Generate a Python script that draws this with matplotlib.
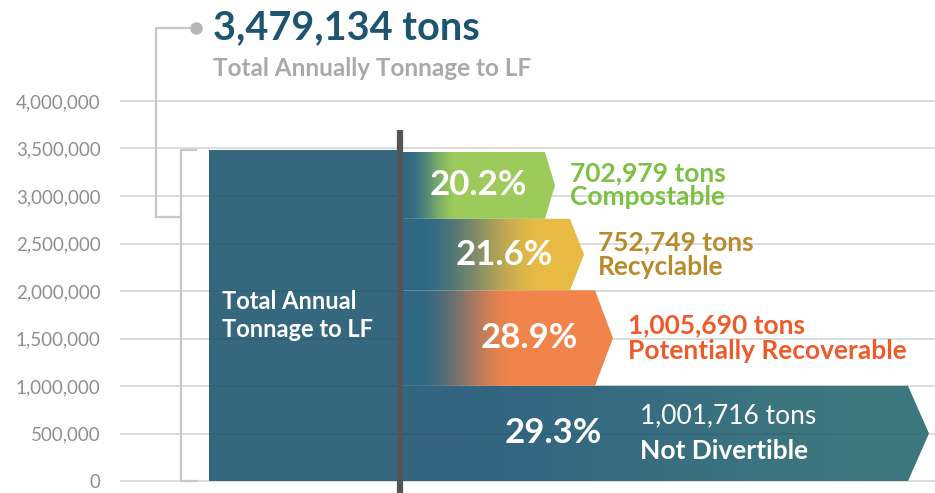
import numpy as np
import matplotlib
matplotlib.use("Agg")
import matplotlib.pyplot as plt
from matplotlib.patches import Polygon
from matplotlib.colors import to_rgb
from matplotlib.ticker import FuncFormatter

# data (bottom to top)
categories = ["Not Divertible", "Potentially Recoverable", "Recyclable", "Compostable"]
tons = [1001716, 1005690, 752749, 702979]
pcts = [29.3, 28.9, 21.6, 20.2]
total = 3479134
yticks = [0, 500000, 1000000, 1500000, 2000000, 2500000, 3000000, 3500000, 4000000]

# styling / layout (x in pixel-like units)
teal = "#35687f"
arrow_cols = ["#3e787e", "#f1844a", "#e7bb44", "#9dcb5b"]
text_cols = ["white", "#ef5a2a", "#b88b2b", "#7cc142"]
rect_end = [908, 595, 570, 545]
tip_end = [929, 613, 584, 555]
grad_from = [400, 416, 418, 406]
grad_to = [929, 515, 543, 458]
pct_x = [553, 529, 504, 478]
lab_x = [640, 628, 598, 570]
lab_off = [185000, 135000, 135000, 125000]

plt.rcParams["font.family"] = ["Lato", "DejaVu Sans"]

fig = plt.figure(figsize=(9.35, 4.93), dpi=100)
ax = fig.add_axes([120 / 935, 0, 815 / 935, 1])


def yfrac(py):
    return 1 - py / 493


def grad_img(x0, x1, xa, xb, c0, c1, n=400):
    xs = np.linspace(x0, x1, n)
    t = np.clip((xs - xa) / (xb - xa), 0, 1)
    t = t * t * (3 - 2 * t)
    a = np.array(to_rgb(c0))
    b = np.array(to_rgb(c1))
    img = a[None, :] * (1 - t[:, None]) + b[None, :] * t[:, None]
    return img[None, :, :]


# main bar
ax.bar(209, total, width=191, align="edge", color=teal, zorder=2)
ax.text(222, 1.74e6, "Total Annual\nTonnage to LF", color="white", fontsize=17,
        fontweight="bold", va="center", ha="left", linespacing=1.25, zorder=6)

# arrows
bottoms = np.concatenate([[0], np.cumsum(tons)[:-1]])
for i in range(len(tons)):
    y0 = bottoms[i]
    y1 = y0 + tons[i]
    ym = (y0 + y1) / 2
    x0 = 400
    pts = [(x0, y0), (rect_end[i], y0), (tip_end[i], ym), (rect_end[i], y1), (x0, y1)]
    poly = Polygon(pts, closed=True, facecolor="none", edgecolor="none")
    ax.add_patch(poly)
    start = "#336482" if i == 0 else "#2f6884"
    img = grad_img(x0, tip_end[i], grad_from[i], grad_to[i], start, arrow_cols[i])
    im = ax.imshow(img, extent=[x0, tip_end[i], y0, y1], aspect="auto",
                   origin="lower", interpolation="bilinear", zorder=3 + i * 0.1)
    im.set_clip_path(poly)

    ax.text(pct_x[i], ym, f"{pcts[i]}%", color="white", fontsize=25,
            fontweight="bold", ha="center", va="center", zorder=6)
    ax.text(lab_x[i], ym + lab_off[i], f"{tons[i]:,} tons", color=text_cols[i],
            fontsize=19, fontweight="normal" if i == 0 else "bold",
            ha="left", va="center", zorder=6)
    ax.text(lab_x[i], ym - lab_off[i], categories[i], color=text_cols[i],
            fontsize=19, fontweight="bold", ha="left", va="center", zorder=6)

# faint grid showing through teal shapes
ax.hlines([v for v in yticks if 0 < v < total], 209, 400, color="black",
          alpha=0.07, lw=1.2, zorder=2.5)
ax.hlines([500000], 400, 920, color="black", alpha=0.07, lw=1.2, zorder=3.5)

# divider line
ax.plot([400, 400], [-300000, 3690000], color="#555555", lw=4.5,
        solid_capstyle="butt", zorder=5)

ax.set_xlim(120, 935)
ax.set_ylim(-126000, 5063000)

# brackets
bc = "#c8c8c8"
ax.plot([196, 181, 181, 196], [total, total, 0, 0], color=bc, lw=1.6,
        clip_on=False, zorder=1)
conn_y = 2780000
tr = ax.get_xaxis_transform()
ax.plot([181, 156], [conn_y, conn_y], color=bc, lw=1.6, clip_on=False, zorder=1)
y_conn_frac = (conn_y + 126000) / (5063000 + 126000)
ax.plot([156, 156, 196], [y_conn_frac, yfrac(28), yfrac(28)], color=bc, lw=1.6,
        transform=tr, clip_on=False, zorder=1)
ax.plot([196], [yfrac(28)], "o", color="#b5b5b5", ms=8, transform=tr,
        clip_on=False, zorder=2)

# title
ax.text(213, yfrac(28), f"{total:,} tons", transform=tr, color="#1d5570",
        fontsize=28.5, fontweight="bold", ha="left", va="center")
ax.text(213, yfrac(68), "Total Annually Tonnage to LF", transform=tr,
        color="#a9a9a9", fontsize=17.5, fontweight="bold", ha="left", va="center")

# axes
ax.set_yticks(yticks)
ax.yaxis.set_major_formatter(FuncFormatter(lambda v, p: f"{int(v):,}"))
ax.tick_params(axis="y", length=0, pad=14, labelsize=13.5, labelcolor="#8f8f8f")
ax.set_xticks([])
ax.yaxis.grid(True, color="#dadada", lw=1.3)
ax.set_axisbelow(True)
for s in ax.spines.values():
    s.set_visible(False)

fig.savefig("out.png", dpi=100)
